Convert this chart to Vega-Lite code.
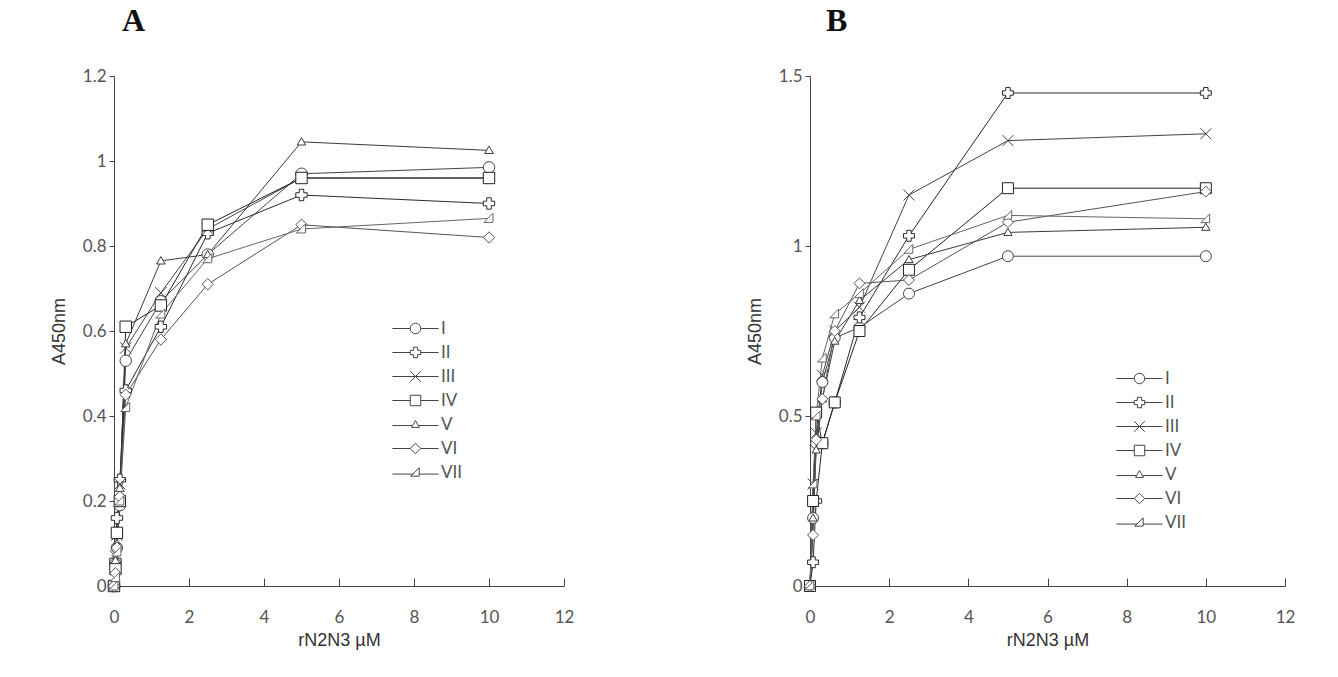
{
  "$schema": "https://vega.github.io/schema/vega-lite/v6.json",
  "autosize": {"type": "pad"},
  "padding": {"left": 50, "top": 5, "right": 60, "bottom": 40},
  "background": "#ffffff",
  "bounds": "flush",
  "spacing": 246,
  "resolve": {"scale": {"shape": "independent", "stroke": "independent", "color": "independent"}, "legend": {"shape": "independent", "stroke": "independent", "color": "independent"}},
  "datasets": {
    "d": [
      {"p":"A","s":"I","x":0,"y":0},{"p":"A","s":"I","x":0.039,"y":0.05},{"p":"A","s":"I","x":0.078,"y":0.09},{"p":"A","s":"I","x":0.156,"y":0.19},{"p":"A","s":"I","x":0.3125,"y":0.53},{"p":"A","s":"I","x":1.25,"y":0.67},{"p":"A","s":"I","x":2.5,"y":0.78},{"p":"A","s":"I","x":5,"y":0.97},{"p":"A","s":"I","x":10,"y":0.985},
      {"p":"A","s":"II","x":0,"y":0},{"p":"A","s":"II","x":0.039,"y":0.06},{"p":"A","s":"II","x":0.078,"y":0.16},{"p":"A","s":"II","x":0.156,"y":0.25},{"p":"A","s":"II","x":0.3125,"y":0.46},{"p":"A","s":"II","x":1.25,"y":0.61},{"p":"A","s":"II","x":2.5,"y":0.83},{"p":"A","s":"II","x":5,"y":0.92},{"p":"A","s":"II","x":10,"y":0.9},
      {"p":"A","s":"III","x":0,"y":0},{"p":"A","s":"III","x":0.039,"y":0.07},{"p":"A","s":"III","x":0.078,"y":0.12},{"p":"A","s":"III","x":0.156,"y":0.24},{"p":"A","s":"III","x":0.3125,"y":0.56},{"p":"A","s":"III","x":1.25,"y":0.69},{"p":"A","s":"III","x":2.5,"y":0.84},{"p":"A","s":"III","x":5,"y":0.96},{"p":"A","s":"III","x":10,"y":0.96},
      {"p":"A","s":"IV","x":0,"y":0},{"p":"A","s":"IV","x":0.039,"y":0.04},{"p":"A","s":"IV","x":0.078,"y":0.125},{"p":"A","s":"IV","x":0.156,"y":0.2},{"p":"A","s":"IV","x":0.3125,"y":0.61},{"p":"A","s":"IV","x":1.25,"y":0.66},{"p":"A","s":"IV","x":2.5,"y":0.85},{"p":"A","s":"IV","x":5,"y":0.96},{"p":"A","s":"IV","x":10,"y":0.96},
      {"p":"A","s":"V","x":0,"y":0},{"p":"A","s":"V","x":0.039,"y":0.06},{"p":"A","s":"V","x":0.078,"y":0.1},{"p":"A","s":"V","x":0.156,"y":0.23},{"p":"A","s":"V","x":0.3125,"y":0.57},{"p":"A","s":"V","x":1.25,"y":0.765},{"p":"A","s":"V","x":2.5,"y":0.78},{"p":"A","s":"V","x":5,"y":1.045},{"p":"A","s":"V","x":10,"y":1.025},
      {"p":"A","s":"VI","x":0,"y":0},{"p":"A","s":"VI","x":0.039,"y":0.03},{"p":"A","s":"VI","x":0.078,"y":0.09},{"p":"A","s":"VI","x":0.156,"y":0.21},{"p":"A","s":"VI","x":0.3125,"y":0.45},{"p":"A","s":"VI","x":1.25,"y":0.58},{"p":"A","s":"VI","x":2.5,"y":0.71},{"p":"A","s":"VI","x":5,"y":0.85},{"p":"A","s":"VI","x":10,"y":0.82},
      {"p":"A","s":"VII","x":0,"y":0},{"p":"A","s":"VII","x":0.039,"y":0.02},{"p":"A","s":"VII","x":0.078,"y":0.08},{"p":"A","s":"VII","x":0.156,"y":0.2},{"p":"A","s":"VII","x":0.3125,"y":0.42},{"p":"A","s":"VII","x":1.25,"y":0.64},{"p":"A","s":"VII","x":2.5,"y":0.77},{"p":"A","s":"VII","x":5,"y":0.84},{"p":"A","s":"VII","x":10,"y":0.865},
      {"p":"B","s":"I","x":0,"y":0},{"p":"B","s":"I","x":0.078,"y":0.2},{"p":"B","s":"I","x":0.156,"y":0.42},{"p":"B","s":"I","x":0.3125,"y":0.6},{"p":"B","s":"I","x":0.625,"y":0.73},{"p":"B","s":"I","x":1.25,"y":0.76},{"p":"B","s":"I","x":2.5,"y":0.86},{"p":"B","s":"I","x":5,"y":0.97},{"p":"B","s":"I","x":10,"y":0.97},
      {"p":"B","s":"II","x":0,"y":0},{"p":"B","s":"II","x":0.078,"y":0.07},{"p":"B","s":"II","x":0.156,"y":0.25},{"p":"B","s":"II","x":0.3125,"y":0.42},{"p":"B","s":"II","x":0.625,"y":0.54},{"p":"B","s":"II","x":1.25,"y":0.79},{"p":"B","s":"II","x":2.5,"y":1.03},{"p":"B","s":"II","x":5,"y":1.45},{"p":"B","s":"II","x":10,"y":1.45},
      {"p":"B","s":"III","x":0,"y":0},{"p":"B","s":"III","x":0.078,"y":0.3},{"p":"B","s":"III","x":0.156,"y":0.45},{"p":"B","s":"III","x":0.3125,"y":0.62},{"p":"B","s":"III","x":0.625,"y":0.75},{"p":"B","s":"III","x":1.25,"y":0.82},{"p":"B","s":"III","x":2.5,"y":1.15},{"p":"B","s":"III","x":5,"y":1.31},{"p":"B","s":"III","x":10,"y":1.33},
      {"p":"B","s":"IV","x":0,"y":0},{"p":"B","s":"IV","x":0.078,"y":0.25},{"p":"B","s":"IV","x":0.156,"y":0.51},{"p":"B","s":"IV","x":0.3125,"y":0.42},{"p":"B","s":"IV","x":0.625,"y":0.54},{"p":"B","s":"IV","x":1.25,"y":0.75},{"p":"B","s":"IV","x":2.5,"y":0.93},{"p":"B","s":"IV","x":5,"y":1.17},{"p":"B","s":"IV","x":10,"y":1.17},
      {"p":"B","s":"V","x":0,"y":0},{"p":"B","s":"V","x":0.078,"y":0.2},{"p":"B","s":"V","x":0.156,"y":0.4},{"p":"B","s":"V","x":0.3125,"y":0.55},{"p":"B","s":"V","x":0.625,"y":0.72},{"p":"B","s":"V","x":1.25,"y":0.84},{"p":"B","s":"V","x":2.5,"y":0.96},{"p":"B","s":"V","x":5,"y":1.04},{"p":"B","s":"V","x":10,"y":1.055},
      {"p":"B","s":"VI","x":0,"y":0},{"p":"B","s":"VI","x":0.078,"y":0.15},{"p":"B","s":"VI","x":0.156,"y":0.43},{"p":"B","s":"VI","x":0.3125,"y":0.55},{"p":"B","s":"VI","x":0.625,"y":0.75},{"p":"B","s":"VI","x":1.25,"y":0.89},{"p":"B","s":"VI","x":2.5,"y":0.9},{"p":"B","s":"VI","x":5,"y":1.07},{"p":"B","s":"VI","x":10,"y":1.16},
      {"p":"B","s":"VII","x":0,"y":0},{"p":"B","s":"VII","x":0.078,"y":0.3},{"p":"B","s":"VII","x":0.156,"y":0.5},{"p":"B","s":"VII","x":0.3125,"y":0.67},{"p":"B","s":"VII","x":0.625,"y":0.8},{"p":"B","s":"VII","x":1.25,"y":0.86},{"p":"B","s":"VII","x":2.5,"y":0.99},{"p":"B","s":"VII","x":5,"y":1.09},{"p":"B","s":"VII","x":10,"y":1.08}
    ]
  },
  "data": {"name": "d"},
  "hconcat": [
    {
      "title": {"text": "A", "anchor": "start", "frame": "group", "dx": 8, "offset": 4, "baseline": "alphabetic", "font": "Liberation Serif", "fontSize": 32, "fontWeight": "bold", "color": "#111"},
      "width": 450,
      "height": 510,
      "transform": [{"filter": "datum.p === 'A'"}],
      "encoding": {
        "x": {"field": "x", "type": "quantitative", "scale": {"domain": [0, 12], "nice": false}, "axis": {"title": "rN2N3 µM", "values": [0, 2, 4, 6, 8, 10, 12], "format": "d"}},
        "y": {"field": "y", "type": "quantitative", "scale": {"domain": [0, 1.2], "nice": false}, "axis": {"title": "A450nm", "values": [0, 0.2, 0.4, 0.6, 0.8, 1, 1.2], "format": "~g"}}
      },
      "resolve": {"scale": {"shape": "independent"}, "legend": {"shape": "independent"}},
      "layer": [
        {
          "mark": {"type": "line", "strokeWidth": 1},
          "encoding": {"color": {"field": "s", "type": "nominal", "sort": ["I","II","III","IV","V","VI","VII"], "scale": {"range": ["#444","#2a2a2a","#444","#222","#3a3a3a","#555","#666"]}, "legend": null}}
        },
        {
          "mark": {"type": "point", "filled": true, "fill": "#fff", "strokeWidth": 1, "size": 130, "opacity": 1},
          "encoding": {
            "stroke": {"field": "s", "type": "nominal", "sort": ["I","II","III","IV","V","VI","VII"], "scale": {"range": ["#444","#2a2a2a","#444","#222","#3a3a3a","#555","#666"]}, "legend": null},
            "shape": {"field": "s", "type": "nominal", "sort": ["I","II","III","IV","V","VI","VII"],
              "scale": {"range": ["circle", "cross", "M-1,-1L1,1M-1,1L1,-1", "square", "M0,-0.75L0.75,0.55L-0.75,0.55Z", "diamond", "M0.7,-0.9L0.7,0.7L-0.9,0.7Z"]},
              "legend": null}
          }
        },
        {
          "mark": {"type": "point", "filled": false, "color": "#444", "stroke": "#444", "strokeWidth": 1, "opacity": 0, "size": 110},
          "encoding": {
            "shape": {"field": "s", "type": "nominal", "sort": ["I","II","III","IV","V","VI","VII"],
              "scale": {"range": [
                "M-4.4,0L-1,0M1,0L4.4,0M1,0A1,1,0,1,1,-1,0A1,1,0,1,1,1,0Z",
                "M-4.4,0L-1,0M1,0L4.4,0M-1,-0.4L-0.4,-0.4L-0.4,-1L0.4,-1L0.4,-0.4L1,-0.4L1,0.4L0.4,0.4L0.4,1L-0.4,1L-0.4,0.4L-1,0.4Z",
                "M-4.4,0L4.4,0M-1,-1L1,1M-1,1L1,-1",
                "M-4.4,0L-1,0M1,0L4.4,0M-1,-1L1,-1L1,1L-1,1Z",
                "M-4.4,0.2L-0.6,0.2M0.6,0.2L4.4,0.2M0,-0.75L0.75,0.55L-0.75,0.55Z",
                "M-4.4,0L-1,0M1,0L4.4,0M0,-1L1,0L0,1L-1,0Z",
                "M-4.4,0.3L-0.4,0.3M0.7,0.3L4.4,0.3M0.7,-0.9L0.7,0.7L-0.9,0.7Z"]},
              "legend": {"orient": "none", "legendX": 293, "legendY": 244, "symbolOpacity": 1, "symbolStrokeColor": "#444", "symbolStrokeWidth": 1}}
          }
        }
      ]
    },
    {
      "title": {"text": "B", "anchor": "start", "frame": "group", "dx": 16, "offset": 4, "baseline": "alphabetic", "font": "Liberation Serif", "fontSize": 32, "fontWeight": "bold", "color": "#111"},
      "width": 475,
      "height": 510,
      "transform": [{"filter": "datum.p === 'B'"}],
      "encoding": {
        "x": {"field": "x", "type": "quantitative", "scale": {"domain": [0, 12], "nice": false}, "axis": {"title": "rN2N3 µM", "values": [0, 2, 4, 6, 8, 10, 12], "format": "d"}},
        "y": {"field": "y", "type": "quantitative", "scale": {"domain": [0, 1.5], "nice": false}, "axis": {"title": "A450nm", "values": [0, 0.5, 1, 1.5], "format": "~g"}}
      },
      "resolve": {"scale": {"shape": "independent"}, "legend": {"shape": "independent"}},
      "layer": [
        {
          "mark": {"type": "line", "strokeWidth": 1},
          "encoding": {"color": {"field": "s", "type": "nominal", "sort": ["I","II","III","IV","V","VI","VII"], "scale": {"range": ["#444","#2a2a2a","#444","#222","#3a3a3a","#555","#666"]}, "legend": null}}
        },
        {
          "mark": {"type": "point", "filled": true, "fill": "#fff", "strokeWidth": 1, "size": 120, "opacity": 1},
          "encoding": {
            "stroke": {"field": "s", "type": "nominal", "sort": ["I","II","III","IV","V","VI","VII"], "scale": {"range": ["#444","#2a2a2a","#444","#222","#3a3a3a","#555","#666"]}, "legend": null},
            "shape": {"field": "s", "type": "nominal", "sort": ["I","II","III","IV","V","VI","VII"],
              "scale": {"range": ["circle", "cross", "M-1,-1L1,1M-1,1L1,-1", "square", "M0,-0.75L0.75,0.55L-0.75,0.55Z", "diamond", "M0.7,-0.9L0.7,0.7L-0.9,0.7Z"]},
              "legend": null}
          }
        },
        {
          "mark": {"type": "point", "filled": false, "color": "#444", "stroke": "#444", "strokeWidth": 1, "opacity": 0, "size": 110},
          "encoding": {
            "shape": {"field": "s", "type": "nominal", "sort": ["I","II","III","IV","V","VI","VII"],
              "scale": {"range": [
                "M-4.4,0L-1,0M1,0L4.4,0M1,0A1,1,0,1,1,-1,0A1,1,0,1,1,1,0Z",
                "M-4.4,0L-1,0M1,0L4.4,0M-1,-0.4L-0.4,-0.4L-0.4,-1L0.4,-1L0.4,-0.4L1,-0.4L1,0.4L0.4,0.4L0.4,1L-0.4,1L-0.4,0.4L-1,0.4Z",
                "M-4.4,0L4.4,0M-1,-1L1,1M-1,1L1,-1",
                "M-4.4,0L-1,0M1,0L4.4,0M-1,-1L1,-1L1,1L-1,1Z",
                "M-4.4,0.2L-0.6,0.2M0.6,0.2L4.4,0.2M0,-0.75L0.75,0.55L-0.75,0.55Z",
                "M-4.4,0L-1,0M1,0L4.4,0M0,-1L1,0L0,1L-1,0Z",
                "M-4.4,0.3L-0.4,0.3M0.7,0.3L4.4,0.3M0.7,-0.9L0.7,0.7L-0.9,0.7Z"]},
              "legend": {"orient": "none", "legendX": 321, "legendY": 294, "symbolOpacity": 1, "symbolStrokeColor": "#444", "symbolStrokeWidth": 1}}
          }
        }
      ]
    }
  ],
  "config": {
    "view": {"stroke": null},
    "axis": {"grid": false, "labelFont": "Lato", "labelFontSize": 17, "labelColor": "#555", "titleFont": "Liberation Sans", "titleFontSize": 18, "titleFontWeight": "normal", "titleColor": "#333", "domainColor": "#444", "tickColor": "#444", "domainWidth": 1, "tickWidth": 1},
    "axisX": {"tickSize": -8, "labelPadding": 31, "titlePadding": 6, "labelFlush": false},
    "axisY": {"tickSize": 5, "labelPadding": 3, "titlePadding": 14, "labelFlush": false},
    "legend": {
      "orient": "none",
      "title": null,
      "padding": 0,
      "labelFont": "Lato",
      "labelFontSize": 17,
      "labelColor": "#555",
      "symbolSize": 110,
      "rowPadding": 6,
      "labelOffset": 17
    }
  }
}
